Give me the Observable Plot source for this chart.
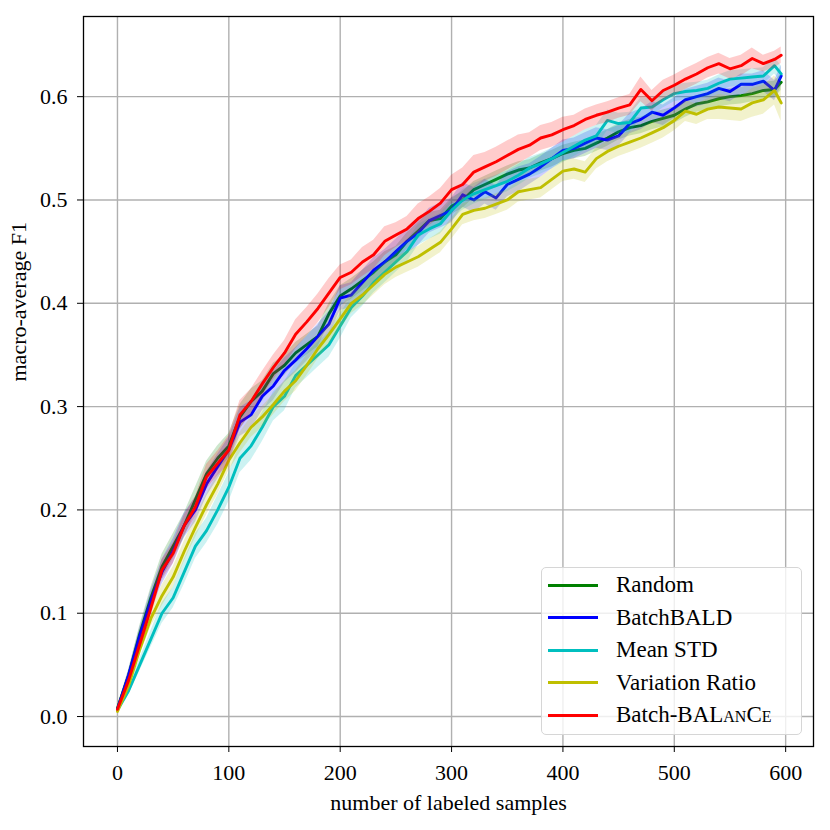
<!DOCTYPE html>
<html>
<head>
<meta charset="utf-8">
<script src="https://cdn.jsdelivr.net/npm/d3@7"></script>
<script src="https://cdn.jsdelivr.net/npm/@observablehq/plot@0.6"></script>
<style>
  body { margin: 0; background: #fff; }
  #wrap { position: relative; width: 830px; height: 830px; font-family: "Liberation Serif", "DejaVu Serif", serif; }
  #legend { position: absolute; left: 541px; top: 567px; width: 261px; height: 168px;
            border: 1.5px solid #d6d6d6; border-radius: 5px; background: rgba(255,255,255,0.8);
            box-sizing: border-box; }
  .row { position: absolute; left: 0; height: 24px; display: flex; align-items: center;
         font-family: "Liberation Serif", "DejaVu Serif", serif;
         font-size: 23px; color: #000; white-space: nowrap; }
  .sw { width: 50px; height: 3px; margin-left: 6px; margin-right: 18px; }
  .sc { font-variant: small-caps; }
</style>
</head>
<body>
<div id="wrap">
  <div id="chart"></div>
  <div id="legend"></div>
</div>
<script>
// ---------- data ----------
const samples = [0,10,20,30,40,50,60,70,80,90,100,110,120,130,140,150,160,170,180,190,
  200,210,220,230,240,250,260,270,280,290,300,310,320,330,340,350,360,370,380,390,
  400,410,420,430,440,450,460,470,480,490,500,510,520,530,540,550,560,570,580,590,596];

const seriesNames = ["Random", "BatchBALD", "Mean STD", "Variation Ratio", "Batch-BALanCe"];
const seriesColors = ["#008000", "#0000ff", "#00bfbf", "#bfbf00", "#ff0000"];

const randomMean = [0.008,0.04,0.08,0.115,0.145,0.165,0.185,0.21,0.235,0.25,
  0.262,0.29,0.305,0.315,0.332,0.34,0.352,0.36,0.368,0.39,
  0.407,0.414,0.422,0.43,0.44,0.447,0.46,0.47,0.48,0.482,
  0.494,0.5,0.51,0.515,0.52,0.525,0.529,0.531,0.536,0.54,
  0.545,0.548,0.55,0.555,0.56,0.566,0.57,0.572,0.576,0.579,
  0.582,0.588,0.593,0.595,0.598,0.6,0.601,0.603,0.606,0.607,0.614];
const randomSd = [0.002,0.005,0.008,0.01,0.012,0.012,0.012,0.012,0.012,0.012,
  0.012,0.012,0.012,0.01,0.01,0.01,0.01,0.01,0.01,0.01,
  0.01,0.01,0.01,0.01,0.01,0.008,0.008,0.008,0.008,0.008,
  0.008,0.008,0.008,0.008,0.008,0.008,0.008,0.008,0.008,0.008,
  0.008,0.008,0.008,0.008,0.008,0.008,0.008,0.008,0.008,0.008,
  0.008,0.008,0.008,0.008,0.008,0.008,0.008,0.008,0.008,0.008,0.008];

const batchbaldMean = [0.007,0.04,0.078,0.112,0.14,0.16,0.185,0.2,0.225,0.242,
  0.258,0.285,0.292,0.31,0.32,0.335,0.345,0.356,0.368,0.38,
  0.405,0.408,0.42,0.432,0.44,0.45,0.46,0.468,0.48,0.485,
  0.49,0.505,0.5,0.508,0.502,0.515,0.52,0.525,0.532,0.54,
  0.548,0.55,0.555,0.56,0.558,0.562,0.574,0.578,0.585,0.582,
  0.589,0.597,0.6,0.603,0.608,0.605,0.612,0.612,0.615,0.606,0.62];
const batchbaldSd = [0.002,0.005,0.008,0.01,0.012,0.012,0.012,0.012,0.012,0.012,
  0.012,0.014,0.014,0.014,0.014,0.012,0.012,0.012,0.012,0.012,
  0.012,0.012,0.012,0.012,0.012,0.012,0.012,0.012,0.012,0.012,
  0.012,0.012,0.012,0.012,0.012,0.012,0.012,0.01,0.01,0.01,
  0.01,0.01,0.01,0.01,0.01,0.01,0.01,0.01,0.01,0.01,
  0.01,0.01,0.01,0.01,0.01,0.01,0.01,0.01,0.01,0.01,0.01];

const meanstdMean = [0.006,0.025,0.05,0.075,0.1,0.115,0.14,0.165,0.18,0.2,
  0.222,0.25,0.262,0.28,0.3,0.31,0.33,0.34,0.35,0.36,
  0.378,0.396,0.407,0.42,0.43,0.44,0.45,0.466,0.472,0.477,
  0.49,0.5,0.506,0.51,0.514,0.518,0.524,0.531,0.535,0.54,
  0.546,0.552,0.558,0.562,0.577,0.574,0.575,0.589,0.59,0.597,
  0.603,0.605,0.606,0.608,0.613,0.617,0.618,0.619,0.62,0.63,0.622];
const meanstdSd = [0.002,0.004,0.006,0.008,0.01,0.01,0.012,0.012,0.012,0.014,
  0.014,0.014,0.014,0.014,0.014,0.014,0.012,0.012,0.012,0.012,
  0.012,0.01,0.01,0.01,0.01,0.01,0.01,0.01,0.01,0.01,
  0.01,0.01,0.01,0.01,0.01,0.01,0.01,0.01,0.01,0.01,
  0.01,0.01,0.01,0.01,0.01,0.01,0.01,0.01,0.008,0.008,
  0.008,0.008,0.008,0.008,0.008,0.008,0.008,0.008,0.008,0.008,0.008];

const varratioMean = [0.005,0.03,0.065,0.095,0.117,0.135,0.16,0.183,0.205,0.225,
  0.248,0.265,0.28,0.29,0.302,0.315,0.325,0.34,0.356,0.37,
  0.385,0.4,0.408,0.418,0.428,0.435,0.44,0.445,0.452,0.459,
  0.472,0.486,0.49,0.492,0.496,0.5,0.508,0.51,0.512,0.52,
  0.528,0.53,0.527,0.54,0.547,0.552,0.556,0.56,0.565,0.57,
  0.577,0.586,0.583,0.588,0.59,0.589,0.588,0.594,0.597,0.606,0.594];
const varratioSd = [0.002,0.004,0.006,0.008,0.01,0.01,0.01,0.01,0.01,0.01,
  0.01,0.01,0.01,0.01,0.01,0.01,0.01,0.01,0.01,0.01,
  0.01,0.01,0.01,0.01,0.01,0.01,0.01,0.01,0.01,0.01,
  0.01,0.01,0.01,0.01,0.01,0.01,0.01,0.01,0.01,0.01,
  0.01,0.01,0.01,0.01,0.01,0.01,0.01,0.01,0.01,0.01,
  0.01,0.01,0.01,0.01,0.012,0.012,0.012,0.014,0.014,0.014,0.018];

const balanceMean = [0.007,0.035,0.07,0.105,0.142,0.158,0.185,0.203,0.232,0.245,
  0.258,0.292,0.305,0.322,0.338,0.352,0.37,0.382,0.395,0.41,
  0.425,0.43,0.44,0.447,0.46,0.466,0.472,0.482,0.489,0.497,
  0.51,0.515,0.527,0.532,0.537,0.543,0.549,0.553,0.56,0.563,
  0.568,0.572,0.578,0.582,0.585,0.589,0.592,0.607,0.596,0.606,
  0.611,0.617,0.622,0.628,0.632,0.627,0.63,0.637,0.632,0.636,0.64];
const balanceSd = [0.002,0.004,0.006,0.008,0.01,0.01,0.01,0.01,0.012,0.012,
  0.014,0.014,0.012,0.012,0.012,0.012,0.014,0.014,0.014,0.014,
  0.012,0.012,0.014,0.014,0.014,0.012,0.012,0.014,0.014,0.014,
  0.014,0.016,0.016,0.014,0.014,0.014,0.014,0.012,0.012,0.012,
  0.012,0.01,0.01,0.01,0.01,0.01,0.01,0.012,0.01,0.01,
  0.01,0.01,0.01,0.01,0.01,0.01,0.01,0.01,0.008,0.008,0.008];

const xTicks = [0, 100, 200, 300, 400, 500, 600];
const yTicks = [0, 0.1, 0.2, 0.3, 0.4, 0.5, 0.6];

const means = [randomMean, batchbaldMean, meanstdMean, varratioMean, balanceMean];
const sds = [randomSd, batchbaldSd, meanstdSd, varratioSd, balanceSd];

// ---------- build tables ----------
const tables = means.map((m, k) => samples.map((x, i) => ({
  x, y: m[i], lo: m[i] - sds[k][i], hi: m[i] + sds[k][i], name: seriesNames[k]
})));

const marks = [
  Plot.gridX(xTicks, {stroke: "#b0b0b0", strokeOpacity: 1, strokeWidth: 1.4}),
  Plot.gridY(yTicks, {stroke: "#b0b0b0", strokeOpacity: 1, strokeWidth: 1.4}),
];
tables.forEach((t, k) => {
  marks.push(Plot.areaY(t, {x: "x", y1: "lo", y2: "hi", fill: seriesColors[k], fillOpacity: 0.2}));
  marks.push(Plot.line(t, {x: "x", y: "y", stroke: seriesColors[k], strokeWidth: 2.9}));
});
marks.push(
  Plot.frame({stroke: "black", strokeWidth: 1.3}),
  Plot.axisX(xTicks, {tickSize: 6, tickPadding: 12, fontSize: 22, label: null, tickFormat: d => String(d)}),
  Plot.axisY(yTicks, {tickSize: 6, tickPadding: 10, fontSize: 22, label: null, tickFormat: d3.format(".1f")}),
  Plot.text(["number of labeled samples"], {frameAnchor: "bottom", dy: 56, text: d => d, fontSize: 22, lineAnchor: "middle"}),
  Plot.text(["macro-average F1"], {frameAnchor: "left", dx: -65, rotate: -90, text: d => d, fontSize: 22, lineAnchor: "middle"})
);

const chart = Plot.plot({
  width: 830,
  height: 830,
  marginLeft: 83,
  marginRight: 17,
  marginTop: 16,
  marginBottom: 84,
  style: {fontFamily: "'Liberation Serif', 'DejaVu Serif', serif", fontSize: "22px", background: "#fff", color: "#000"},
  x: {domain: [-30.5, 625]},
  y: {domain: [-0.029, 0.6776]},
  marks
});
document.getElementById("chart").appendChild(chart);

// ---------- legend ----------
const legend = document.getElementById("legend");
const labelsHtml = ["Random", "BatchBALD", "Mean STD", "Variation Ratio",
  'Batch-BAL<span class="sc">an</span>C<span class="sc">e</span>'];
const rowTops = [17, 49.5, 82, 114.5, 147];
labelsHtml.forEach((h, k) => {
  const r = document.createElement("div");
  r.className = "row";
  r.style.top = (rowTops[k] - 12) + "px";
  r.innerHTML = `<div class="sw" style="background:${seriesColors[k]}"></div><span>${h}</span>`;
  legend.appendChild(r);
});
</script>
</body>
</html>
